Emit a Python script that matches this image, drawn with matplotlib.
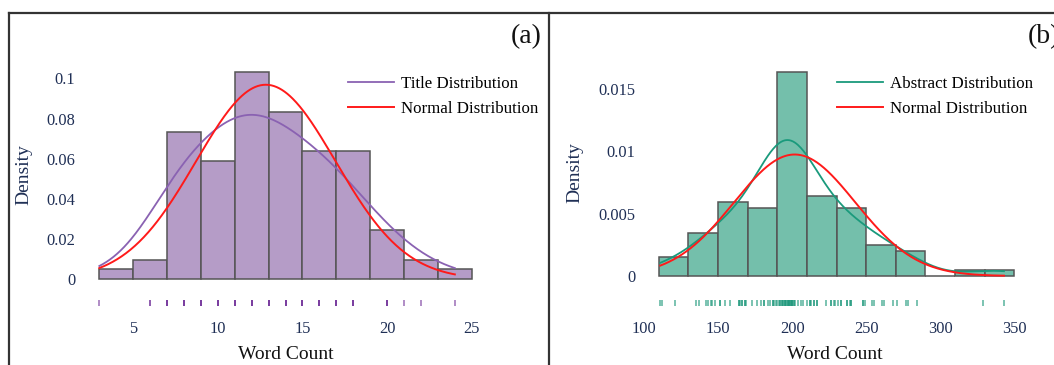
import numpy as np
import matplotlib
matplotlib.use("Agg")
import matplotlib.pyplot as plt
from matplotlib.lines import Line2D

# ---------------- data ----------------
# Title length (words) and how many papers have it
title_values = [3, 6, 7, 8, 9, 10, 11, 12, 13, 14, 15, 16, 17, 18, 20, 21, 22, 24]
title_freqs = [1, 2, 7, 8, 6, 6, 12, 9, 8, 9, 6, 7, 6, 7, 5, 1, 1, 1]
title_bins = [3, 5, 7, 9, 11, 13, 15, 17, 19, 21, 23, 25]

# Abstract length (words), one entry per paper
abstract_counts = [
    111, 112, 121,
    135, 137, 142, 143, 145, 146, 148,
    151, 151, 155, 158, 164, 164, 165, 166, 166, 168, 168, 169,
    173, 176, 179, 181, 181, 184, 185, 187, 187, 188, 189,
    190, 191, 192, 192, 193, 193, 194, 194, 195, 195, 195, 196, 196,
    197, 197, 197, 198, 198, 198, 198, 199, 199, 199, 200, 200, 200, 200,
    201, 201, 202, 204, 206, 207,
    210, 212, 212, 213, 215, 215, 217, 217, 223, 226, 226, 228, 229,
    231, 233, 233, 237, 237, 239, 240, 240, 248, 248, 249,
    254, 255, 261, 262, 268,
    271, 277, 278, 284,
    329, 343,
]
abstract_bins = [110, 130, 150, 170, 190, 210, 230, 250, 270, 290, 310, 330, 350]

title_xticks = [5, 10, 15, 20, 25]
title_yticks = [0, 0.02, 0.04, 0.06, 0.08, 0.1]
title_yticklabels = ["0", "0.02", "0.04", "0.06", "0.08", "0.1"]
abstract_xticks = [100, 150, 200, 250, 300, 350]
abstract_yticks = [0, 0.005, 0.01, 0.015]
abstract_yticklabels = ["0", "0.005", "0.01", "0.015"]

# ---------------- style ----------------
plt.rcParams["font.family"] = ["Liberation Serif", "DejaVu Serif"]
NAVY = "#1f2f55"
W, H = 1054, 365


def fx(px):
    return px / W


def fy(py):
    return 1 - py / H


def kde(sample, grid, adjust=1.0):
    n = len(sample)
    bw = adjust * sample.std(ddof=1) * n ** (-0.2)
    z = (grid[:, None] - sample[None, :]) / bw
    return np.exp(-0.5 * z ** 2).sum(axis=1) / (n * bw * np.sqrt(2 * np.pi))


def normal_pdf(grid, mu, sd):
    return np.exp(-0.5 * ((grid - mu) / sd) ** 2) / (sd * np.sqrt(2 * np.pi))


def panel(ax, sample, bins, face, line_color, rug_color, label, xticks, yticks,
          yticklabels, ytick_pad, legend_x, ylabel_x, bw_adjust):
    ax.hist(sample, bins=bins, density=True, color=face, edgecolor="#555555",
            linewidth=1.1, zorder=1)
    grid = np.linspace(sample.min(), sample.max(), 400)
    ax.plot(grid, kde(sample, grid, bw_adjust), color=line_color, lw=1.3,
            zorder=3, label=label)
    ax.plot(grid, normal_pdf(grid, sample.mean(), sample.std()), color="#ff1a1a",
            lw=1.4, zorder=4, label="Normal Distribution")
    # rug of individual observations below the baseline
    ax.vlines(sample, 0.021, 0.045, transform=ax.get_xaxis_transform(),
              color=rug_color, alpha=0.6, lw=1.4, zorder=2)
    for s in ax.spines.values():
        s.set_visible(False)
    ax.set_xticks(xticks)
    ax.set_yticks(yticks)
    ax.set_yticklabels(yticklabels)
    ax.tick_params(axis="both", length=0, labelsize=11.8, colors=NAVY)
    ax.tick_params(axis="y", pad=ytick_pad)
    ax.tick_params(axis="x", pad=6.5)
    ax.set_xlabel("Word Count", fontsize=14, color="#111111")
    ax.xaxis.set_label_coords(0.5, -0.134)
    ax.set_ylabel("Density", fontsize=14, color=NAVY)
    ax.yaxis.set_label_coords(ylabel_x, 0.534)
    ax.legend(loc="upper left", bbox_to_anchor=(fx(legend_x), fy(76)),
              bbox_transform=ax.figure.transFigure, frameon=False, borderpad=0,
              borderaxespad=0, handlelength=2.67, handletextpad=0.42,
              labelspacing=0.55, fontsize=12.2)


fig = plt.figure(figsize=(W / 100, H / 100), dpi=100)

title_sample = np.repeat(np.array(title_values, dtype=float), title_freqs)
abstract_sample = np.array(abstract_counts, dtype=float)

ax_a = fig.add_axes([fx(82.4), fy(311.5), 406.3 / W, 257.3 / H])
ax_a.set_xlim(2, 26)
ax_a.set_ylim(-0.016, 0.112)
panel(ax_a, title_sample, title_bins, "#b59cc7", "#8a62b2", "#7b3fa0",
      "Title Distribution", title_xticks, title_yticks, title_yticklabels,
      5.0, 348.3, -0.122, 1.3)

ax_b = fig.add_axes([fx(638.1), fy(311.5), 394 / W, 259.8 / H])
ax_b.set_xlim(96, 362)
ax_b.set_ylim(-0.00285, 0.0180)
panel(ax_b, abstract_sample, abstract_bins, "#74bfab", "#1a9a7c", "#239a7e",
      "Abstract Distribution", abstract_xticks, abstract_yticks,
      abstract_yticklabels, 2.0, 837.3, -0.138, 1.1)

# panel frames
frame = dict(color="#333333", lw=1.6, transform=fig.transFigure)
fig.add_artist(Line2D([fx(8.5), 1], [fy(12.5), fy(12.5)], **frame))
fig.add_artist(Line2D([fx(9), fx(9)], [fy(12.5), 0], **frame))
fig.add_artist(Line2D([fx(549), fx(549)], [fy(12.5), 0], **frame))

fig.text(fx(541.7), fy(37), "(a)", ha="right", va="center", fontsize=20,
         color="#111111")
fig.text(fx(1027.3), fy(37), "(b)", ha="left", va="center", fontsize=20,
         color="#111111")

fig.savefig("out.png", dpi=100)
